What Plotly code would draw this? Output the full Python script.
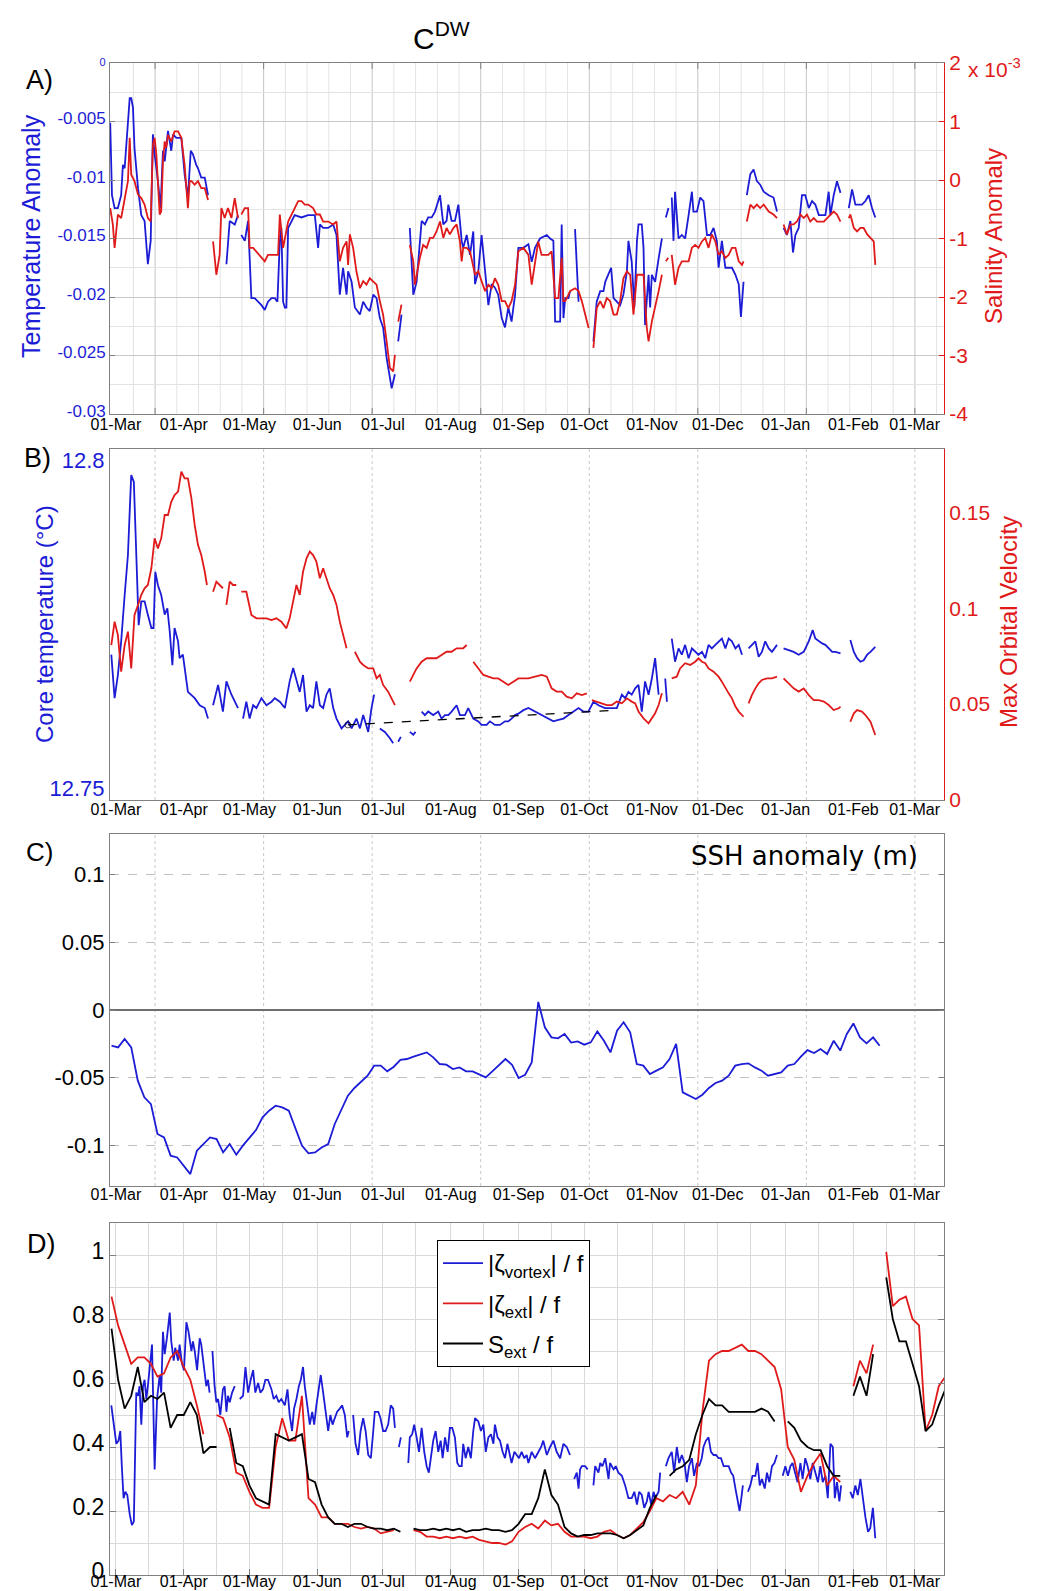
import pandas as pd
import plotly.graph_objects as go

W, H = 1049, 1591
FONT = "Liberation Sans, Arial, sans-serif"
BLUE = "#1c1cd6"
RED = "#e01a1a"
AXIS = "#808080"

# day 0 is 01-Mar; the regularly sampled series start on day -2, one value every 3 days
START = pd.Timestamp("2010-03-01")
FIRST_DAY = -2
STEP_DAYS = 3

# ---- A) temperature anomaly (left axis): (day, value), None = data gap
temp_obs = [
    (-2.6, -0.0051), (-1.8, -0.0113), (-0.6, -0.0124), (0.9, -0.0124), (2.4, -0.0113), (3.2, -0.0087),
    (4.0, -0.0090), (4.7, -0.0073), (5.5, -0.0056), (6.3, -0.0030), (7.0, -0.0030), (7.8, -0.0038),
    (8.5, -0.0073), (10.1, -0.0107), (11.6, -0.0130), (13.1, -0.0135), (14.6, -0.0172), (15.9, -0.0152),
    (16.9, -0.0061), (17.7, -0.0078), (19.2, -0.0101), (20.4, -0.0124), (21.5, -0.0075), (22.3, -0.0084),
    (23.8, -0.0058), (24.6, -0.0067), (25.3, -0.0075), (26.1, -0.0061), (27.6, -0.0064), (28.4, -0.0064),
    (29.9, -0.0064), (31.4, -0.0095), (32.9, -0.0115), (34.2, -0.0075), (35.2, -0.0078), (36.7, -0.0087),
    (37.5, -0.0090), (39.0, -0.0098), (40.6, -0.0098), (42.1, -0.0113), (46.0, None),
    (50.5, -0.0172), (52.0, -0.0135), (54.3, -0.0138), (55.8, -0.0130), (56.5, None),
    (57.3, -0.0147), (58.9, -0.0152), (60.4, -0.0135), (61.9, -0.0201), (63.4, -0.0201), (65.0, -0.0204),
    (66.5, -0.0207), (68.0, -0.0211), (69.5, -0.0204), (71.1, -0.0201), (72.6, -0.0201), (73.8, -0.0204),
    (74.9, -0.0152), (75.6, -0.0141), (76.4, -0.0204), (77.2, -0.0209), (77.9, -0.0209), (78.7, -0.0141),
    (80.2, -0.0135), (81.7, -0.0130), (84.8, -0.0132), (87.8, -0.0130), (90.9, -0.0130), (92.4, -0.0158),
    (93.2, -0.0138), (94.7, -0.0141), (97.0, -0.0141), (99.3, -0.0138), (100.8, -0.0147), (102.3, -0.0198),
    (103.8, -0.0175), (105.4, -0.0198), (106.1, -0.0178), (107.7, -0.0187), (109.2, -0.0209), (111.5, -0.0215),
    (113.0, -0.0204), (114.5, -0.0209), (116.0, -0.0212), (117.6, -0.0198), (119.1, -0.0201), (120.6, -0.0218),
    (122.1, -0.0226), (123.7, -0.0252), (125.2, -0.0269), (126.0, -0.0278), (127.5, -0.0266), (128.3, None),
    (129.0, -0.0238), (130.5, -0.0215), (132.0, None),
    (134.3, -0.0141), (135.9, -0.0198), (137.4, -0.0187), (139.7, -0.0135), (141.2, -0.0138), (142.7, -0.0132),
    (144.3, -0.0132), (145.8, -0.0127), (148.1, -0.0113), (149.6, -0.0138), (151.1, -0.0135), (151.9, -0.0121),
    (153.4, -0.0135), (154.9, -0.0135), (156.5, -0.0121), (158.0, -0.0152), (158.7, -0.0158), (160.3, -0.0147),
    (161.8, -0.0164), (163.3, -0.0144), (164.1, -0.0189), (165.6, -0.0178), (167.1, -0.0147), (168.7, -0.0178),
    (170.2, -0.0207), (171.7, -0.0189), (173.2, -0.0192), (174.7, -0.0198), (176.3, -0.0218), (177.8, -0.0226),
    (179.3, -0.0209), (180.8, -0.0221), (182.4, -0.0198), (183.9, -0.0158), (186.2, -0.0158), (188.5, -0.0155),
    (190.0, -0.0170), (191.5, -0.0158), (193.8, -0.0150), (196.9, -0.0147), (198.4, -0.0150), (199.9, -0.0152),
    (200.7, -0.0221), (203.0, -0.0221), (203.7, -0.0138), (204.5, -0.0218), (205.3, -0.0201), (206.8, -0.0201),
    (207.5, -0.0195), (208.6, None), (209.8, -0.0142), (211.4, -0.0204), (214.0, None),
    (218.2, -0.0238), (219.7, -0.0204), (221.3, -0.0195), (222.8, -0.0195), (223.6, -0.0187), (225.1, -0.0181),
    (226.3, -0.0175), (227.4, -0.0201), (228.9, -0.0204), (230.4, -0.0207), (231.9, -0.0198), (233.5, -0.0178),
    (234.2, -0.0152), (235.7, -0.0170), (236.9, -0.0209), (238.1, -0.0152), (238.8, -0.0138), (240.3, -0.0138),
    (241.1, -0.0158), (241.8, -0.0224), (243.4, -0.0181), (244.1, -0.0209), (244.9, -0.0181), (246.4, -0.0187),
    (248.0, -0.0167), (249.5, -0.0150), (250.4, None), (251.3, -0.0132), (252.5, -0.0124), (253.2, None),
    (254.0, -0.0115), (254.8, -0.0152), (255.5, -0.0110), (257.1, -0.0150), (258.6, -0.0147), (260.1, -0.0150),
    (261.7, -0.0130), (263.2, -0.0110), (263.9, -0.0127), (265.5, -0.0127), (267.0, -0.0115), (268.5, -0.0118),
    (270.1, -0.0147), (271.6, -0.0147), (273.1, -0.0141), (274.6, -0.0152), (275.4, -0.0175), (276.9, -0.0152),
    (278.5, -0.0175), (280.0, -0.0175), (281.5, -0.0175), (283.1, -0.0181), (284.6, -0.0189), (285.6, -0.0217),
    (286.8, -0.0187), (287.5, None),
    (288.3, -0.0113), (289.9, -0.0095), (291.4, -0.0091), (292.9, -0.0101), (294.4, -0.0104), (296.0, -0.0110),
    (298.3, -0.0113), (300.5, -0.0115), (302.1, -0.0127), (303.6, None),
    (305.1, -0.0141), (306.6, -0.0147), (308.2, -0.0135), (309.4, -0.0162), (310.5, -0.0147), (312.0, -0.0141),
    (313.5, -0.0113), (315.0, -0.0113), (316.6, -0.0124), (318.1, -0.0118), (319.6, -0.0121), (321.2, -0.0130),
    (322.7, -0.0130), (324.2, -0.0130), (325.7, -0.0110), (326.5, -0.0130), (328.0, -0.0113), (329.5, -0.0101),
    (331.1, -0.0111), (333.0, None),
    (334.9, -0.0124), (336.4, -0.0108), (337.9, -0.0121), (340.9, -0.0121), (342.5, -0.0118), (344.0, -0.0113),
    (345.5, -0.0124), (347.0, -0.0132),
]

# ---- A) salinity anomaly (right axis, units of 1e-3)
salinity_obs = [
    (-2.6, -0.48), (-1.4, -0.76), (-0.6, -1.16), (0.9, -0.59), (2.4, -0.65), (4.0, -0.31), (5.5, -0.02),
    (6.3, 0.72), (7.0, 0.09), (8.5, -0.02), (10.1, -0.25), (11.6, -0.31), (13.1, -0.42), (14.6, -0.65),
    (15.9, -0.71), (16.9, 0.60), (17.7, 0.72), (18.5, 0.43), (20.0, -0.59), (20.7, -0.54), (21.5, 0.32),
    (22.3, 0.66), (23.0, 0.55), (23.8, 0.77), (25.3, 0.66), (26.8, 0.83), (28.4, 0.83), (29.9, 0.72),
    (31.4, 0.26), (32.9, -0.48), (33.7, -0.02), (34.5, -0.02), (36.0, -0.08), (37.5, -0.02), (39.0, -0.14),
    (40.6, -0.14), (42.1, -0.34), (43.3, None),
    (44.4, -1.05), (45.9, -1.62), (47.4, -1.28), (48.2, -0.48), (49.7, -0.65), (51.2, -0.48), (52.8, -0.65),
    (54.3, -0.31), (55.8, -0.65), (56.5, None),
    (57.3, -0.59), (58.9, -0.48), (60.4, -0.48), (61.1, -1.16), (62.7, -1.16), (64.2, -1.22), (66.5, -1.33),
    (68.0, -1.39), (69.5, -1.28), (71.1, -1.28), (72.6, -1.28), (74.1, -1.28), (74.9, -0.59), (76.4, -1.16),
    (78.7, -0.71), (81.0, -0.54), (83.3, -0.36), (84.8, -0.36), (86.3, -0.42), (87.8, -0.42), (90.1, -0.48),
    (91.6, -0.59), (93.2, -0.59), (94.7, -0.71), (97.0, -0.71), (99.3, -0.76), (100.8, -0.71), (102.3, -1.39),
    (103.8, -1.16), (105.4, -1.05), (106.1, -1.45), (106.9, -0.93), (108.4, -1.16), (109.9, -1.56),
    (111.5, -1.85), (113.0, -1.73), (114.5, -1.79), (116.0, -1.68), (117.6, -1.73), (119.1, -1.79),
    (120.6, -2.07), (122.1, -2.30), (123.7, -2.76), (125.2, -3.21), (126.7, -3.27), (127.5, -2.99),
    (128.3, None), (129.0, -2.42), (130.5, -2.13), (132.0, None),
    (134.3, -1.11), (135.9, -1.39), (136.6, -1.79), (138.9, -1.33), (140.4, -1.11), (142.0, -1.16),
    (143.5, -0.99), (145.0, -0.99), (146.5, -0.88), (148.1, -0.71), (149.6, -0.99), (151.1, -0.82),
    (152.6, -0.93), (154.2, -0.82), (155.7, -0.76), (157.2, -1.05), (158.0, -1.39), (158.7, -1.16),
    (160.3, -1.16), (161.8, -1.22), (164.1, -1.62), (165.6, -1.56), (167.1, -1.73), (168.7, -1.90),
    (170.2, -1.79), (171.7, -1.85), (173.2, -1.68), (174.7, -1.79), (176.3, -2.07), (177.8, -2.07),
    (179.3, -2.19), (180.8, -2.07), (182.4, -1.79), (183.9, -1.22), (186.2, -1.16), (188.5, -1.28),
    (190.0, -1.79), (191.5, -1.45), (193.0, -1.05), (194.5, -1.28), (196.1, -1.28), (197.6, -1.28),
    (199.1, -1.22), (200.7, -2.02), (202.2, -2.02), (203.7, -1.33), (204.5, -2.07), (205.3, -2.07),
    (206.8, -1.96), (207.5, -1.90), (209.8, -1.85), (211.4, -1.90), (212.9, -2.07), (214.4, -2.30),
    (216.0, -2.53), (217.1, None),
    (218.2, -2.87), (219.7, -2.19), (221.3, -2.07), (222.8, -2.19), (224.3, -2.02), (225.8, -2.07),
    (227.4, -2.30), (228.9, -2.30), (230.4, -2.07), (231.9, -1.68), (233.5, -1.56), (235.0, -1.62),
    (236.5, -2.30), (238.1, -1.62), (239.6, -1.62), (241.1, -1.62), (242.6, -2.53), (243.4, -2.76),
    (244.9, -2.42), (246.4, -2.19), (248.0, -1.90), (249.5, -1.62), (250.4, None), (251.3, -1.39),
    (252.4, -1.33), (253.2, None),
    (254.0, -1.28), (255.5, -1.79), (257.1, -1.50), (258.6, -1.39), (260.1, -1.39), (261.7, -1.39),
    (263.2, -1.16), (264.7, -1.11), (266.2, -1.16), (267.8, -1.05), (269.3, -0.99), (270.8, -1.16),
    (272.3, -0.93), (273.9, -1.05), (275.4, -1.28), (276.9, -1.22), (278.5, -1.33), (280.0, -1.28),
    (281.5, -1.16), (283.1, -1.16), (284.6, -1.39), (286.1, -1.45), (286.8, -1.39), (287.5, None),
    (288.3, -0.71), (289.9, -0.42), (291.4, -0.48), (292.9, -0.42), (294.4, -0.48), (296.0, -0.42),
    (298.3, -0.54), (300.5, -0.59), (302.1, -0.65), (303.6, None),
    (305.1, -0.76), (306.6, -0.93), (308.2, -0.76), (309.7, -0.76), (311.2, -0.71), (312.8, -0.59),
    (314.3, -0.65), (315.8, -0.59), (317.3, -0.71), (318.9, -0.65), (320.4, -0.71), (321.9, -0.71),
    (323.5, -0.71), (325.0, -0.65), (326.5, -0.59), (328.0, -0.54), (329.5, -0.59), (331.1, -0.71),
    (333.0, None),
    (334.9, -0.65), (335.6, -0.59), (337.2, -0.82), (338.7, -0.88), (340.2, -0.82), (341.7, -0.82),
    (343.3, -0.93), (344.8, -0.99), (346.3, -1.05), (347.0, -1.45),
]

# ---- B) core temperature (left axis, degC): (day, value)
core_obs = [
    (-2.1, 12.7707), (-0.6, 12.7645), (0.9, 12.7678), (2.4, 12.7726), (4.0, 12.7792), (5.5, 12.7849),
    (6.3, 12.7911), (7.0, 12.7963), (8.2, 12.7953), (9.3, 12.7840), (10.4, 12.7749), (11.6, 12.7783),
    (13.1, 12.7783), (14.6, 12.7764), (16.2, 12.7745), (17.2, 12.7745), (18.0, 12.7825), (19.2, 12.7806),
    (20.7, 12.7792), (22.3, 12.7764), (23.5, 12.7773), (24.6, 12.7740), (25.8, 12.7692), (26.8, 12.7745),
    (28.4, 12.7726), (29.1, 12.7702), (30.6, 12.7707), (32.9, 12.7654), (36.0, 12.7645), (38.3, 12.7635),
    (40.6, 12.7631), (42.1, 12.7616), (43.3, None),
    (44.4, 12.7635), (46.7, 12.7664), (48.9, 12.7626), (50.5, 12.7669), (52.8, 12.7650), (55.8, 12.7631),
    (56.9, None),
    (58.1, 12.7616), (59.6, 12.7640), (61.1, 12.7616), (62.7, 12.7635), (64.2, 12.7631), (66.5, 12.7645),
    (68.8, 12.7635), (71.1, 12.7640), (72.6, 12.7645), (74.9, 12.7640), (77.2, 12.7631), (79.4, 12.7669),
    (81.0, 12.7688), (82.5, 12.7669), (84.0, 12.7654), (85.5, 12.7678), (87.1, 12.7626), (88.6, 12.7635),
    (90.1, 12.7631), (91.6, 12.7669), (93.2, 12.7635), (94.7, 12.7631), (96.2, 12.7650), (97.7, 12.7659),
    (99.3, 12.7631), (100.8, 12.7616), (103.1, 12.7602), (104.6, 12.7607), (106.1, 12.7612), (107.7, 12.7602),
    (109.9, 12.7616), (111.5, 12.7602), (113.0, 12.7621), (115.3, 12.7597), (116.8, 12.7631), (118.0, 12.7650),
    (119.3, None),
    (120.6, 12.7602), (122.9, 12.7597), (125.2, 12.7588), (126.7, 12.7581), (127.9, None),
    (129.0, 12.7583), (130.2, 12.7590), (132.0, None),
    (134.3, 12.7597), (135.9, 12.7593), (136.9, 12.7597), (138.2, None),
    (139.7, 12.7626), (141.2, 12.7621), (142.7, 12.7626), (145.0, 12.7621), (147.3, 12.7626), (148.8, 12.7616),
    (150.4, 12.7621), (151.9, 12.7621), (153.4, 12.7626), (155.7, 12.7635), (157.2, 12.7621), (159.5, 12.7621),
    (161.0, 12.7631), (163.3, 12.7616), (165.6, 12.7612), (167.1, 12.7607), (169.4, 12.7607), (170.9, 12.7612),
    (173.2, 12.7607), (175.5, 12.7607), (177.8, 12.7612), (179.3, 12.7612), (180.8, 12.7616), (182.4, 12.7621),
    (183.9, 12.7623), (186.2, 12.7628), (188.5, 12.7631), (191.5, 12.7626), (194.6, 12.7621), (197.6, 12.7616),
    (199.9, 12.7612), (202.2, 12.7614), (204.5, 12.7616), (206.8, 12.7621), (209.1, 12.7626), (211.4, 12.7631),
    (213.6, 12.7626), (215.9, 12.7626), (218.2, 12.7640), (220.5, 12.7635), (223.5, 12.7631), (226.6, 12.7631),
    (228.9, 12.7631), (231.2, 12.7650), (232.7, 12.7645), (234.2, 12.7654), (235.7, 12.7650), (237.3, 12.7659),
    (238.8, 12.7664), (240.3, 12.7626), (241.8, 12.7669), (243.4, 12.7650), (244.9, 12.7673), (246.4, 12.7702),
    (248.0, 12.7650), (249.4, None), (251.0, 12.7673), (251.8, 12.7640), (252.9, None),
    (254.0, 12.7730), (255.5, 12.7697), (257.1, 12.7716), (258.6, 12.7707), (260.1, 12.7721), (261.7, 12.7702),
    (263.2, 12.7716), (264.7, 12.7711), (266.2, 12.7707), (267.8, 12.7711), (269.3, 12.7702), (270.8, 12.7721),
    (272.3, 12.7716), (273.9, 12.7721), (275.4, 12.7726), (276.9, 12.7730), (278.5, 12.7716), (280.0, 12.7730),
    (281.5, 12.7726), (283.1, 12.7716), (284.6, 12.7721), (286.1, 12.7707), (287.5, None),
    (289.1, 12.7716), (290.6, 12.7721), (292.2, 12.7726), (293.7, 12.7704), (295.2, 12.7711), (296.7, 12.7726),
    (298.3, 12.7716), (299.8, 12.7711), (302.1, 12.7721), (303.6, None),
    (305.1, 12.7716), (307.4, 12.7714), (309.7, 12.7711), (312.0, 12.7707), (314.3, 12.7711), (316.6, 12.7726),
    (318.4, 12.7742), (319.6, 12.7730), (321.2, 12.7726), (322.7, 12.7723), (324.2, 12.7721), (325.7, 12.7716),
    (327.3, 12.7711), (328.8, 12.7711), (331.1, 12.7709), (333.0, None),
    (335.6, 12.7728), (337.2, 12.7711), (338.7, 12.7702), (340.2, 12.7697), (341.7, 12.7699), (343.3, 12.7707),
    (344.8, 12.7711), (346.3, 12.7716), (347.0, 12.7718),
]

# ---- B) max orbital velocity (right axis): (day, value)
velocity_obs = [
    (-2.1, 0.0808), (-0.6, 0.0930), (0.9, 0.0860), (2.4, 0.0669), (4.0, 0.0808), (5.5, 0.0878), (7.0, 0.0686),
    (8.5, 0.0965), (10.1, 0.1017), (11.6, 0.1069), (13.1, 0.1104), (14.6, 0.1121), (16.2, 0.1208),
    (17.7, 0.1364), (19.2, 0.1312), (20.7, 0.1364), (22.3, 0.1486), (23.8, 0.1486), (25.3, 0.1555),
    (26.8, 0.1590), (28.4, 0.1608), (29.9, 0.1712), (31.4, 0.1677), (32.9, 0.1677), (34.5, 0.1573),
    (36.0, 0.1434), (37.5, 0.1330), (39.0, 0.1277), (40.6, 0.1190), (41.6, 0.1121), (43.0, None),
    (44.4, 0.1086), (45.9, 0.1138), (47.4, 0.1121), (48.9, 0.1104), (49.7, None),
    (50.5, 0.1017), (52.0, 0.1138), (53.5, 0.1121), (55.0, 0.1121), (56.2, None),
    (57.3, 0.1086), (59.6, 0.1086), (61.9, 0.0965), (64.2, 0.0947), (66.5, 0.0947), (68.8, 0.0947),
    (71.1, 0.0938), (73.3, 0.0947), (75.6, 0.0930), (77.9, 0.0895), (79.4, 0.0947), (81.0, 0.1034),
    (82.5, 0.1121), (84.0, 0.1069), (85.5, 0.1190), (87.1, 0.1260), (88.6, 0.1295), (90.1, 0.1277),
    (91.6, 0.1243), (93.2, 0.1156), (94.7, 0.1208), (96.2, 0.1156), (97.7, 0.1104), (99.3, 0.1069),
    (100.8, 0.1017), (102.3, 0.0930), (103.8, 0.0860), (105.4, 0.0791), (106.5, None),
    (109.2, 0.0773), (111.5, 0.0721), (113.0, 0.0704), (115.3, 0.0686), (117.6, 0.0686), (119.1, 0.0634),
    (120.6, 0.0652), (122.1, 0.0600), (124.4, 0.0565), (126.7, 0.0513), (127.5, 0.0495), (129.0, None),
    (134.3, 0.0617), (135.9, 0.0652), (137.4, 0.0686), (139.7, 0.0721), (142.0, 0.0739), (144.3, 0.0739),
    (146.5, 0.0739), (148.8, 0.0756), (151.1, 0.0773), (153.4, 0.0773), (155.7, 0.0791), (158.7, 0.0791),
    (160.3, 0.0808), (161.5, None),
    (163.3, 0.0721), (165.6, 0.0686), (167.9, 0.0652), (170.2, 0.0643), (172.5, 0.0634), (174.7, 0.0634),
    (177.0, 0.0617), (179.3, 0.0600), (181.6, 0.0617), (183.9, 0.0634), (186.2, 0.0634), (188.5, 0.0634),
    (191.5, 0.0643), (194.6, 0.0652), (196.9, 0.0643), (199.1, 0.0582), (201.4, 0.0565), (203.7, 0.0565),
    (206.0, 0.0539), (208.3, 0.0530), (210.6, 0.0556), (212.9, 0.0547), (215.2, 0.0556), (216.4, None),
    (217.5, 0.0521), (219.7, 0.0513), (222.0, 0.0504), (224.3, 0.0495), (226.6, 0.0495), (228.9, 0.0513),
    (231.2, 0.0504), (233.5, 0.0530), (235.7, 0.0513), (237.3, 0.0504), (238.8, 0.0461), (241.1, 0.0426),
    (243.4, 0.0400), (244.9, 0.0426), (246.4, 0.0452), (248.0, 0.0495), (249.5, 0.0556), (251.0, None),
    (254.0, 0.0634), (256.3, 0.0643), (257.8, 0.0686), (260.1, 0.0713), (262.4, 0.0704), (264.7, 0.0721),
    (266.2, 0.0739), (267.8, 0.0721), (269.3, 0.0713), (270.8, 0.0686), (273.1, 0.0669), (275.4, 0.0643),
    (276.9, 0.0617), (278.5, 0.0582), (280.0, 0.0556), (281.5, 0.0530), (283.1, 0.0487), (284.6, 0.0461),
    (286.8, 0.0434), (287.8, None),
    (289.1, 0.0504), (290.6, 0.0547), (292.2, 0.0582), (293.7, 0.0608), (295.2, 0.0626), (297.5, 0.0634),
    (299.8, 0.0634), (302.1, 0.0643), (303.6, None),
    (305.1, 0.0634), (307.4, 0.0608), (309.7, 0.0582), (312.0, 0.0565), (314.3, 0.0582), (316.6, 0.0547),
    (318.9, 0.0521), (321.2, 0.0521), (323.5, 0.0513), (325.7, 0.0495), (328.0, 0.0469), (330.3, 0.0478),
    (331.1, 0.0487), (333.0, None),
    (335.6, 0.0408), (337.2, 0.0452), (338.7, 0.0469), (340.9, 0.0461), (342.5, 0.0443), (344.8, 0.0408),
    (347.0, 0.0339),
]
trend_days = [106, 229]
trend_temp = [12.7607, 12.7628]

# ---- C) SSH anomaly (m), every 3 days
ssh_anomaly = [
    -0.0264, -0.0276, -0.0214, -0.0276, -0.0522, -0.0645, -0.0695, -0.0916, -0.0941, -0.1076,
    -0.1089, -0.1150, -0.1212, -0.1039, -0.0990, -0.0941, -0.0953, -0.1052, -0.0990, -0.1069,
    -0.1002, -0.0946, -0.0887, -0.0793, -0.0744, -0.0707, -0.0719, -0.0744, -0.0879, -0.1002,
    -0.1059, -0.1052, -0.1015, -0.0990, -0.0842, -0.0732, -0.0633, -0.0576, -0.0534, -0.0485,
    -0.0411, -0.0411, -0.0453, -0.0419, -0.0369, -0.0362, -0.0345, -0.0330, -0.0313, -0.0350,
    -0.0399, -0.0404, -0.0436, -0.0424, -0.0453, -0.0453, -0.0473, -0.0498, -0.0453, -0.0411,
    -0.0362, -0.0404, -0.0502, -0.0478, -0.0387, 0.0060, -0.0128, -0.0202, -0.0209, -0.0177,
    -0.0241, -0.0232, -0.0256, -0.0239, -0.0158, -0.0227, -0.0313, -0.0153, -0.0091, -0.0165,
    -0.0399, -0.0411, -0.0473, -0.0448, -0.0424, -0.0362, -0.0250, -0.0608, -0.0633, -0.0658,
    -0.0626, -0.0576, -0.0539, -0.0522, -0.0485, -0.0411, -0.0399, -0.0394, -0.0424, -0.0448,
    -0.0485, -0.0473, -0.0461, -0.0411, -0.0399, -0.0345, -0.0296, -0.0318, -0.0288, -0.0325,
    -0.0227, -0.0300, -0.0177, -0.0099, -0.0202, -0.0246, -0.0202, -0.0264,
]

# ---- D) |zeta_vortex| / f : (day, value)
vortex_obs = [
    (-2.1, 0.53), (-0.9, 0.46), (0.2, 0.41), (1.2, 0.42), (2.0, 0.45), (2.7, 0.34), (3.5, 0.24), (4.3, 0.26),
    (5.2, 0.25), (6.3, 0.19), (7.3, 0.156), (8.2, 0.167), (9.3, 0.57), (10.1, 0.56), (10.8, 0.59), (11.6, 0.47),
    (12.4, 0.59), (13.1, 0.61), (13.9, 0.55), (14.6, 0.59), (15.4, 0.64), (16.5, 0.72), (17.7, 0.33), (18.8, 0.55),
    (20.0, 0.625), (20.7, 0.57), (21.5, 0.76), (22.3, 0.69), (23.3, 0.74), (24.6, 0.82), (25.3, 0.73), (26.4, 0.67),
    (27.1, 0.71), (28.4, 0.67), (29.1, 0.72), (30.2, 0.66), (31.1, 0.64), (32.2, 0.79), (33.2, 0.76), (34.5, 0.70),
    (35.2, 0.73), (36.0, 0.70), (37.1, 0.64), (38.3, 0.74), (39.0, 0.72), (39.8, 0.68), (40.6, 0.64), (41.3, 0.59),
    (42.1, 0.61), (42.8, 0.57), (43.5, None),
    (44.1, 0.70), (45.1, 0.59), (45.9, 0.54), (46.7, 0.55), (47.7, 0.50), (48.9, 0.58), (49.7, 0.59), (50.5, 0.51),
    (51.2, 0.56), (52.0, 0.54), (53.1, 0.57), (54.3, 0.59), (55.5, None),
    (56.6, 0.55), (58.1, 0.56), (59.2, 0.65), (60.4, 0.57), (61.6, 0.61), (62.7, 0.64), (63.7, 0.57), (65.0, 0.60),
    (66.0, 0.57), (67.2, 0.58), (68.3, 0.61), (69.5, 0.61), (71.1, 0.58), (72.1, 0.55), (73.3, 0.56), (74.4, 0.54),
    (75.6, 0.55), (77.2, 0.53), (78.4, 0.58), (79.4, 0.50), (80.5, 0.45), (81.4, 0.52), (82.5, 0.55), (83.6, 0.59),
    (84.5, 0.61), (85.5, 0.65), (86.3, 0.59), (87.4, 0.54), (88.6, 0.47), (89.7, 0.51), (90.6, 0.47), (91.6, 0.53),
    (92.7, 0.59), (93.6, 0.625), (94.7, 0.57), (95.8, 0.51), (97.0, 0.45), (98.0, 0.50), (99.0, 0.47), (100.0, 0.49),
    (101.1, 0.51), (102.3, 0.52), (103.4, 0.53), (104.6, 0.50), (105.7, 0.43), (106.4, 0.45), (107.4, None),
    (108.4, 0.50), (109.5, 0.41), (110.7, 0.375), (111.8, 0.45), (113.0, 0.49), (114.1, 0.45), (115.3, 0.375),
    (116.5, 0.365), (117.6, 0.45), (118.3, 0.51), (119.9, 0.51), (120.9, 0.49), (122.1, 0.45), (123.2, 0.45),
    (124.4, 0.47), (125.6, 0.53), (126.7, 0.52), (127.5, 0.46), (128.4, None), (129.3, 0.40), (130.2, 0.43),
    (132.0, None),
    (133.6, 0.35), (134.3, 0.43), (135.4, 0.44), (136.3, 0.47), (137.4, 0.43), (138.5, 0.385), (139.7, 0.46),
    (140.9, 0.385), (142.0, 0.34), (143.0, 0.32), (143.9, 0.365), (145.0, 0.42), (146.1, 0.45), (147.3, 0.385),
    (148.4, 0.42), (149.3, 0.365), (150.4, 0.43), (151.6, 0.385), (152.6, 0.46), (153.7, 0.46), (154.9, 0.43),
    (156.0, 0.35), (156.9, 0.34), (158.0, 0.34), (158.7, 0.41), (159.8, 0.365), (161.0, 0.40), (162.2, 0.365),
    (163.3, 0.45), (164.1, 0.49), (165.6, 0.48), (166.8, 0.45), (167.9, 0.47), (169.0, 0.385), (170.2, 0.43),
    (171.4, 0.44), (172.5, 0.41), (173.2, 0.47), (174.4, 0.43), (175.5, 0.42), (176.7, 0.385), (177.8, 0.365),
    (178.9, 0.41), (179.8, 0.385), (180.8, 0.35), (182.1, 0.385), (183.1, 0.375), (184.2, 0.365), (185.4, 0.385),
    (186.6, 0.365), (187.7, 0.375), (188.5, 0.35), (190.0, 0.385), (191.5, 0.365), (193.1, 0.385), (194.3, 0.40),
    (195.3, 0.42), (196.9, 0.375), (198.4, 0.40), (199.9, 0.42), (201.4, 0.385), (203.0, 0.365), (204.5, 0.41),
    (206.0, 0.40), (207.5, 0.375), (208.5, None),
    (209.4, 0.30), (210.6, 0.32), (211.4, 0.27), (212.1, 0.33), (212.9, 0.34), (214.4, 0.34), (215.6, 0.33),
    (217.0, None),
    (218.2, 0.28), (219.0, 0.34), (220.5, 0.32), (221.3, 0.35), (222.3, 0.34), (223.6, 0.365), (225.1, 0.30),
    (225.8, 0.35), (227.4, 0.33), (228.4, 0.34), (229.6, 0.32), (231.2, 0.31), (232.7, 0.28), (234.2, 0.24),
    (235.7, 0.24), (236.9, 0.26), (238.1, 0.22), (239.1, 0.26), (240.3, 0.25), (241.4, 0.21), (242.6, 0.23),
    (243.4, 0.26), (244.6, 0.22), (245.7, 0.26), (246.4, 0.24), (248.0, 0.26), (248.7, 0.32), (250.0, None),
    (251.3, 0.34), (252.5, 0.365), (254.0, 0.385), (255.1, 0.32), (256.3, 0.40), (257.4, 0.35), (258.6, 0.375),
    (259.8, 0.35), (260.9, 0.29), (261.9, 0.34), (263.2, 0.365), (264.2, 0.31), (265.5, 0.35), (266.5, 0.34),
    (267.7, 0.365), (268.5, 0.40), (269.6, 0.42), (270.8, 0.43), (271.9, 0.385), (273.1, 0.375), (274.2, 0.375),
    (275.4, 0.365), (276.5, 0.365), (277.7, 0.34), (278.8, 0.34), (280.0, 0.34), (281.1, 0.32), (282.1, 0.31),
    (283.1, 0.27), (284.1, 0.23), (285.0, 0.20), (285.8, 0.24), (286.5, 0.28), (287.6, None),
    (288.8, 0.26), (289.9, 0.28), (290.9, 0.31), (292.2, 0.31), (293.2, 0.35), (294.2, 0.28), (295.2, 0.30),
    (296.5, 0.27), (297.5, 0.32), (298.6, 0.29), (299.8, 0.34), (300.9, 0.35), (302.1, 0.375), (303.4, None),
    (304.7, 0.31), (305.9, 0.34), (307.1, 0.31), (308.2, 0.34), (309.2, 0.35), (310.5, 0.32), (311.5, 0.29),
    (312.8, 0.35), (313.8, 0.30), (315.0, 0.365), (316.1, 0.34), (317.3, 0.30), (318.4, 0.35), (319.6, 0.32),
    (320.8, 0.29), (321.9, 0.34), (323.0, 0.29), (324.2, 0.31), (325.3, 0.24), (326.5, 0.41), (327.6, 0.40),
    (328.5, 0.24), (329.5, 0.29), (330.6, 0.23), (331.4, 0.28), (333.0, None),
    (335.6, 0.26), (336.7, 0.24), (337.9, 0.28), (339.0, 0.25), (340.2, 0.30), (341.3, 0.24), (342.5, 0.18),
    (343.7, 0.135), (344.7, 0.146), (345.9, 0.21), (347.0, 0.115),
]

# ---- D) |zeta_ext| / f and S_ext / f, every 3 days
zeta_ext = [
    0.87, 0.78, 0.72, 0.66, 0.68, 0.68, 0.66, 0.62, 0.63, 0.68,
    0.70, 0.65, 0.61, 0.53, 0.44, None, 0.50, 0.49, 0.43, 0.32,
    0.31, 0.26, 0.22, 0.21, 0.21, 0.40, 0.49, 0.42, 0.42, 0.56,
    0.24, 0.22, 0.18, 0.18, 0.16, 0.16, 0.16, 0.15, 0.145, 0.15,
    0.145, 0.13, 0.135, 0.14, None, None, 0.14, 0.135, 0.12, 0.12,
    0.115, 0.12, 0.115, 0.12, 0.115, 0.12, 0.11, 0.105, 0.10, 0.10,
    0.095, 0.105, 0.135, 0.15, 0.16, 0.145, 0.17, 0.155, 0.16, 0.135,
    0.12, 0.12, 0.12, 0.115, 0.12, 0.135, 0.14, 0.125, 0.115, 0.125,
    0.145, 0.165, 0.20, 0.24, 0.23, 0.25, 0.24, 0.26, 0.22, 0.28,
    0.51, 0.67, 0.69, 0.70, 0.70, 0.71, 0.72, 0.70, 0.70, 0.69,
    0.67, 0.65, 0.58, 0.40, 0.36, 0.26, 0.31, 0.35, 0.38, 0.28,
    0.31, 0.29, None, 0.59, 0.67, 0.63, 0.72, None, 1.01, 0.84,
    0.86, 0.87, 0.80, 0.78, 0.45, 0.50, 0.59, 0.62,
]
strain_ext = [
    0.77, 0.61, 0.52, 0.56, 0.65, 0.54, 0.56, 0.55, 0.57, 0.46,
    0.50, 0.50, 0.54, 0.50, 0.38, 0.40, 0.40, None, 0.46, 0.35,
    0.34, 0.28, 0.24, 0.23, 0.22, 0.44, 0.43, 0.42, 0.43, 0.44,
    0.30, 0.29, 0.22, 0.18, 0.16, 0.16, 0.15, 0.16, 0.16, 0.15,
    0.145, 0.145, 0.14, 0.145, 0.135, None, 0.145, 0.14, 0.14, 0.145,
    0.14, 0.145, 0.14, 0.145, 0.135, 0.14, 0.14, 0.145, 0.14, 0.14,
    0.135, 0.14, 0.16, 0.19, 0.19, 0.24, 0.33, 0.25, 0.22, 0.15,
    0.13, 0.12, 0.125, 0.125, 0.13, 0.13, 0.13, 0.125, 0.115, 0.125,
    0.14, 0.155, 0.21, 0.25, None, 0.31, 0.33, 0.34, 0.36, 0.44,
    0.50, 0.55, 0.53, 0.53, 0.51, 0.51, 0.51, 0.51, 0.51, 0.52,
    0.51, 0.48, None, 0.48, 0.46, 0.42, 0.40, 0.39, 0.39, 0.34,
    0.31, 0.31, None, 0.56, 0.62, 0.56, 0.69, None, 0.93, 0.80,
    0.73, 0.73, 0.66, 0.59, 0.45, 0.47, 0.53, 0.58,
]


def day(d):
    return (START + pd.Timedelta(days=d)).strftime("%Y-%m-%d %H:%M:%S")


def sample_dates(n):
    return [day(FIRST_DAY + STEP_DAYS * i) for i in range(n)]


def unzip(obs):
    return [day(d) for d, _ in obs], [v for _, v in obs]


def px(x):
    return x / W


def py(y):
    return 1 - y / H


X_RANGE = [day(-2.7), day(378.4)]
X_DOM = [px(102), px(936)]

fig = go.Figure()


def line(x, y, color, xa, ya, **kw):
    fig.add_trace(go.Scatter(x=x, y=y, mode="lines", line=dict(color=color, width=1.8),
                             xaxis=xa, yaxis=ya, hoverinfo="skip", **kw))


t_c = sample_dates(len(ssh_anomaly))
t_d = sample_dates(len(zeta_ext))

line(*unzip(temp_obs), BLUE, "x", "y", showlegend=False)
line(*unzip(salinity_obs), RED, "x", "y2", showlegend=False)
line(*unzip(velocity_obs), RED, "x2", "y4", showlegend=False)
line(*unzip(core_obs), BLUE, "x2", "y3", showlegend=False)
fig.add_trace(go.Scatter(x=[day(d) for d in trend_days], y=trend_temp, mode="lines+markers",
                         line=dict(color="black", width=1.3, dash="dash"),
                         marker=dict(symbol="circle-open", size=[6, 0], color="black"),
                         xaxis="x2", yaxis="y3", showlegend=False, hoverinfo="skip"))
line(t_c, ssh_anomaly, BLUE, "x3", "y5", showlegend=False)
line(*unzip(vortex_obs), BLUE, "x4", "y6", name="|ζ<sub>vortex</sub>| / f", legendgroup="a")
line(t_d, zeta_ext, RED, "x4", "y6", name="|ζ<sub>ext</sub>| / f", legendgroup="b")
line(t_d, strain_ext, "black", "x4", "y6", name="S<sub>ext</sub> / f", legendgroup="c")

# odd MATLAB grid of the top three panels (not on the month ticks)
GRID0, GRID_STEP = 17.9, 49.6
grid_major = [GRID0 + GRID_STEP * k for k in range(8)]
grid_minor = [GRID0 + GRID_STEP / 5 * j for j in range(-1, 37) if j % 5]


def vlines(days, xa, ya, color, dash="solid"):
    return [dict(type="line", xref=xa, yref=ya + " domain", x0=day(d), x1=day(d), y0=0, y1=1,
                 layer="below", line=dict(color=color, width=1, dash=dash)) for d in days]


def vticks(days, xa, ya, frac):
    # short inward tick marks at the grid positions (bottom and top edges)
    out = []
    for d in days:
        for y0, y1 in ((0, frac), (1 - frac, 1)):
            out.append(dict(type="line", xref=xa, yref=ya + " domain", x0=day(d), x1=day(d),
                            y0=y0, y1=y1, line=dict(color=AXIS, width=1)))
    return out


shapes = (vlines(grid_minor, "x", "y", "#e3e3e3") + vlines(grid_major, "x", "y", "#c4c4c4")
          + vticks(grid_major, "x", "y", 0.017)
          + vlines(grid_major, "x2", "y3", "#c8c8c8", "dot")
          + vlines(grid_major, "x3", "y5", "#c8c8c8", "dot"))

xbase = dict(type="date", range=X_RANGE, domain=X_DOM, dtick="M1", tick0="2010-03-01",
             tickformat="%d-%b", showline=True, linecolor=AXIS, mirror=True, ticks="",
             showgrid=False, zeroline=False, automargin=False, ticklabelstandoff=-5,
             tickfont=dict(size=16, color="black"))

fig.update_layout(
    template="none",
    width=W, height=H, margin=dict(l=0, r=0, t=0, b=0, pad=0),
    paper_bgcolor="white", plot_bgcolor="white",
    font=dict(family=FONT, color="black"),
    shapes=shapes,
    xaxis=dict(xbase, anchor="y", ticklabelstandoff=-4),
    xaxis2=dict(xbase, anchor="y3"),
    xaxis3=dict(xbase, anchor="y5", ticklabelstandoff=-6),
    xaxis4=dict(xbase, anchor="y6", ticks="inside", ticklen=6, tickcolor=AXIS, ticklabelstandoff=-8,
                showgrid=True, gridcolor="#dadada",
                minor=dict(dtick="M1", tick0="2010-02-16", showgrid=True, gridcolor="#dadada")),
    yaxis=dict(domain=[py(406), py(55)], anchor="x", range=[-0.03, 0],
               tickvals=[-0.03, -0.025, -0.02, -0.015, -0.01, -0.005, 0],
               ticktext=["-0.03", "-0.025", "-0.02", "-0.015", "-0.01", "-0.005",
                         "<span style='font-size:11px'>0</span>"],
               tickfont=dict(size=17, color=BLUE), ticks="inside", ticklen=5, tickcolor=AXIS,
               ticklabelshift=-3,
               showgrid=True, gridcolor="#c8c8c8",
               minor=dict(dtick=0.0025, showgrid=True, gridcolor="#e3e3e3"),
               showline=True, linecolor=AXIS, zeroline=False, automargin=False),
    yaxis2=dict(overlaying="y", side="right", anchor="x", range=[-4, 2],
                tickvals=[-4, -3, -2, -1, 0, 1, 2],
                ticktext=["-4", "-3", "-2", "-1", "0", "1", "2"],
                tickfont=dict(size=21, color=RED), ticks="inside", ticklen=5, tickcolor=RED,
                showgrid=False, showline=True, linecolor=RED, zeroline=False, automargin=False),
    yaxis3=dict(domain=[py(792), py(441)], anchor="x2", range=[12.75, 12.8],
                # labels sit just inside the ends of the axis, as in the original
                tickvals=[12.7516, 12.7984], ticktext=["12.75", "12.8"],
                tickfont=dict(size=22, color=BLUE), showgrid=False,
                showline=True, linecolor=AXIS, zeroline=False, automargin=False),
    yaxis4=dict(overlaying="y3", side="right", anchor="x2", range=[0, 0.183],
                tickvals=[0, 0.05, 0.1, 0.15], ticktext=["0", "0.05", "0.1", "0.15"],
                tickfont=dict(size=21, color=RED), showgrid=False,
                showline=True, linecolor=RED, zeroline=False, automargin=False),
    yaxis5=dict(domain=[py(1178), py(826)], anchor="x3", range=[-0.13, 0.13],
                tickvals=[-0.1, -0.05, 0, 0.05, 0.1], ticktext=["-0.1", "-0.05", "0", "0.05", "0.1"],
                tickfont=dict(size=22, color="black"), ticks="inside", ticklen=5, tickcolor=AXIS,
                showgrid=True, gridcolor="#c0c0c0", griddash="dash",
                zeroline=True, zerolinecolor="#6e6e6e", zerolinewidth=1.5,
                showline=True, linecolor=AXIS, mirror="ticks", automargin=False),
    yaxis6=dict(domain=[py(1567), py(1215)], anchor="x4", range=[0, 1.1],
                tickvals=[0, 0.2, 0.4, 0.6, 0.8, 1], ticktext=["0", "0.2", "0.4", "0.6", "0.8", "1"],
                tickfont=dict(size=23, color="black"), ticks="inside", ticklen=6, tickcolor=AXIS,
                ticklabelshift=-4,
                showgrid=True, gridcolor="#dadada",
                minor=dict(dtick=0.1, showgrid=True, gridcolor="#dadada"),
                showline=True, linecolor=AXIS, mirror="ticks", zeroline=False, automargin=False),
    legend=dict(x=px(429), y=py(1232), xanchor="left", yanchor="top", bgcolor="white",
                bordercolor="black", borderwidth=1, font=dict(size=24, color="black"),
                tracegroupgap=6, itemwidth=40),
)


def note(text, x, y, size, color="black", angle=0, xanchor="center", family=FONT):
    fig.add_annotation(text=text, x=px(x), y=py(y), xref="paper", yref="paper",
                       showarrow=False, textangle=angle, xanchor=xanchor, yanchor="middle",
                       font=dict(size=size, color=color, family=family))


note("C<sup>DW</sup>", 433, 28, 30)
note("A)", 31, 72, 27)
note("B)", 29, 450, 27)
note("C)", 31, 844, 26)
note("D)", 33, 1236, 27)
note("Temperature Anomaly", 23, 228, 25, BLUE, -90)
note("Salinity Anomaly", 985, 228, 24, RED, -90)
note("x 10<sup>-3</sup>", 958, 60, 21, RED, xanchor="left")
note("Core temperature (°C)", 36, 616, 24, BLUE, -90)
note("Max Orbital Velocity", 1001, 614, 24, RED, -90)
note("SSH anomaly (m)", 912, 848, 26, xanchor="right", family="DejaVu Sans, sans-serif")

fig.write_html("out.html")
